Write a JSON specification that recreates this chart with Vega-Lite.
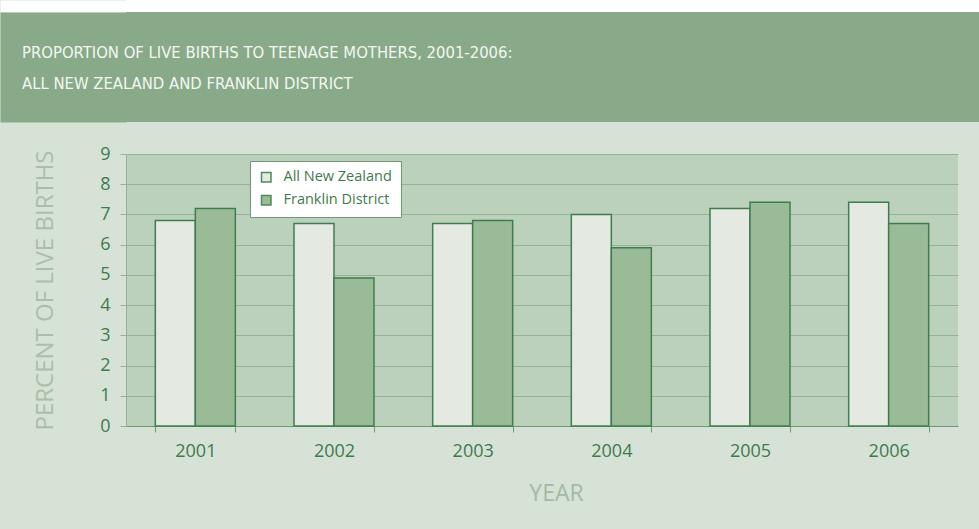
{
  "$schema": "https://vega.github.io/schema/vega-lite/v6.json",
  "background": "#d7e2d6",
  "padding": {"left": 0, "top": 0, "right": 0, "bottom": 24},
  "config": {"view": {"stroke": null}},
  "datasets": {
    "births": [
      {"year": "2001", "series": "All New Zealand", "value": 6.8},
      {"year": "2001", "series": "Franklin District", "value": 7.2},
      {"year": "2002", "series": "All New Zealand", "value": 6.7},
      {"year": "2002", "series": "Franklin District", "value": 4.9},
      {"year": "2003", "series": "All New Zealand", "value": 6.7},
      {"year": "2003", "series": "Franklin District", "value": 6.8},
      {"year": "2004", "series": "All New Zealand", "value": 7.0},
      {"year": "2004", "series": "Franklin District", "value": 5.9},
      {"year": "2005", "series": "All New Zealand", "value": 7.2},
      {"year": "2005", "series": "Franklin District", "value": 7.4},
      {"year": "2006", "series": "All New Zealand", "value": 7.4},
      {"year": "2006", "series": "Franklin District", "value": 6.7}
    ],
    "heading": [
      {"line": 1, "text": "PROPORTION OF LIVE BIRTHS TO TEENAGE MOTHERS, 2001-2006:"},
      {"line": 2, "text": "ALL NEW ZEALAND AND FRANKLIN DISTRICT"}
    ]
  },
  "spacing": 23,
  "resolve": {"legend": {"color": "independent"}, "scale": {"color": "independent", "x": "independent", "y": "independent"}},
  "vconcat": [
    {
      "spacing": 0,
      "resolve": {"scale": {"x": "independent", "y": "independent"}},
      "vconcat": [
        {
          "width": 853,
          "height": 12,
          "view": {"fill": "#ffffff", "stroke": null},
          "data": {"values": []},
          "mark": {"type": "rect"},
          "encoding": {
            "x": {
              "datum": 0,
              "type": "quantitative",
              "axis": {"orient": "bottom", "domain": true, "domainColor": "#ffffff", "domainWidth": 12, "offset": -6, "labels": false, "ticks": false, "grid": false, "title": null, "minExtent": 0}
            },
            "y": {
              "datum": 0,
              "type": "quantitative",
              "axis": {"domain": true, "domainColor": "#ffffff", "domainWidth": 126, "offset": 63, "labels": false, "ticks": false, "grid": false, "title": null, "minExtent": 0}
            }
          }
        },
        {
          "width": 853,
          "height": 110,
          "view": {"fill": "#89aa89", "stroke": null},
          "data": {"name": "heading"},
          "mark": {
            "type": "text",
            "align": "left",
            "baseline": "middle",
            "dx": -104,
            "font": "'DejaVu Sans Condensed', 'Liberation Sans', sans-serif",
            "fontSize": 16.5,
            "letterSpacing": 0.6,
            "color": "#f3f7f1"
          },
          "encoding": {
            "x": {"datum": 0, "type": "quantitative", "scale": {"domain": [0, 1]}, "axis": null},
            "y": {
              "field": "line",
              "type": "quantitative",
              "scale": {"domain": [-0.3226, 3.226], "reverse": true, "zero": false, "nice": false},
              "axis": {"domain": true, "domainColor": "#89aa89", "domainWidth": 126, "offset": 63, "labels": false, "ticks": false, "grid": false, "title": null, "minExtent": 0}
            },
            "text": {"field": "text"}
          }
        }
      ]
    },
    {
      "width": 832,
      "height": 272,
      "view": {"fill": "#bcd1bb", "stroke": null},
      "data": {"name": "births"},
      "mark": {"type": "bar", "stroke": "#3f7d4f", "strokeWidth": 1.5},
      "encoding": {
        "x": {
          "field": "year",
          "type": "nominal",
          "scale": {"paddingInner": 0.423, "paddingOuter": 0.2115},
          "axis": {
            "title": "YEAR",
            "labelAngle": 0,
            "tickBand": "extent",
            "tickSize": 6,
            "tickColor": "#6f9873",
            "domainColor": "#6f9873",
            "labelFont": "Open Sans",
            "labelFontSize": 18,
            "labelColor": "#3f7a4f",
            "labelPadding": 10,
            "titleFont": "Open Sans",
            "titleFontSize": 23,
            "titleFontWeight": "normal",
            "titleColor": "#a3b9a3",
            "titlePadding": 22,
            "titleX": 430
          }
        },
        "xOffset": {"field": "series", "sort": ["All New Zealand", "Franklin District"]},
        "y": {
          "field": "value",
          "type": "quantitative",
          "scale": {"domain": [0, 9]},
          "axis": {
            "values": [0, 1, 2, 3, 4, 5, 6, 7, 8, 9],
            "grid": true,
            "gridColor": "#95b294",
            "domainColor": "#95b294",
            "tickColor": "#95b294",
            "tickSize": 6,
            "labelPadding": 10,
            "labelFont": "Open Sans",
            "labelFontSize": 18,
            "labelColor": "#3f7a4f",
            "title": "PERCENT OF LIVE BIRTHS",
            "titleFont": "Open Sans",
            "titleFontSize": 24,
            "titleFontWeight": "normal",
            "titleColor": "#aabfa9",
            "titleAngle": 270,
            "titleAlign": "center",
            "titleBaseline": "middle",
            "titleX": -81,
            "titleY": 136,
            "minExtent": 126,
            "maxExtent": 200
          }
        },
        "color": {
          "field": "series",
          "type": "nominal",
          "scale": {"domain": ["All New Zealand", "Franklin District"], "range": ["#e4eae2", "#9abb98"]},
          "legend": {
            "title": null,
            "orient": "none",
            "legendX": 124,
            "legendY": 7,
            "fillColor": "#ffffff",
            "strokeColor": "#6f9873",
            "padding": 9,
            "cornerRadius": 0,
            "symbolType": "square",
            "symbolSize": 90,
            "symbolStrokeColor": "#4f8a5c",
            "symbolStrokeWidth": 1.5,
            "labelFont": "Open Sans",
            "labelFontSize": 14.5,
            "labelColor": "#3f7a4f",
            "labelOffset": 10,
            "rowPadding": 7
          }
        }
      }
    }
  ]
}
